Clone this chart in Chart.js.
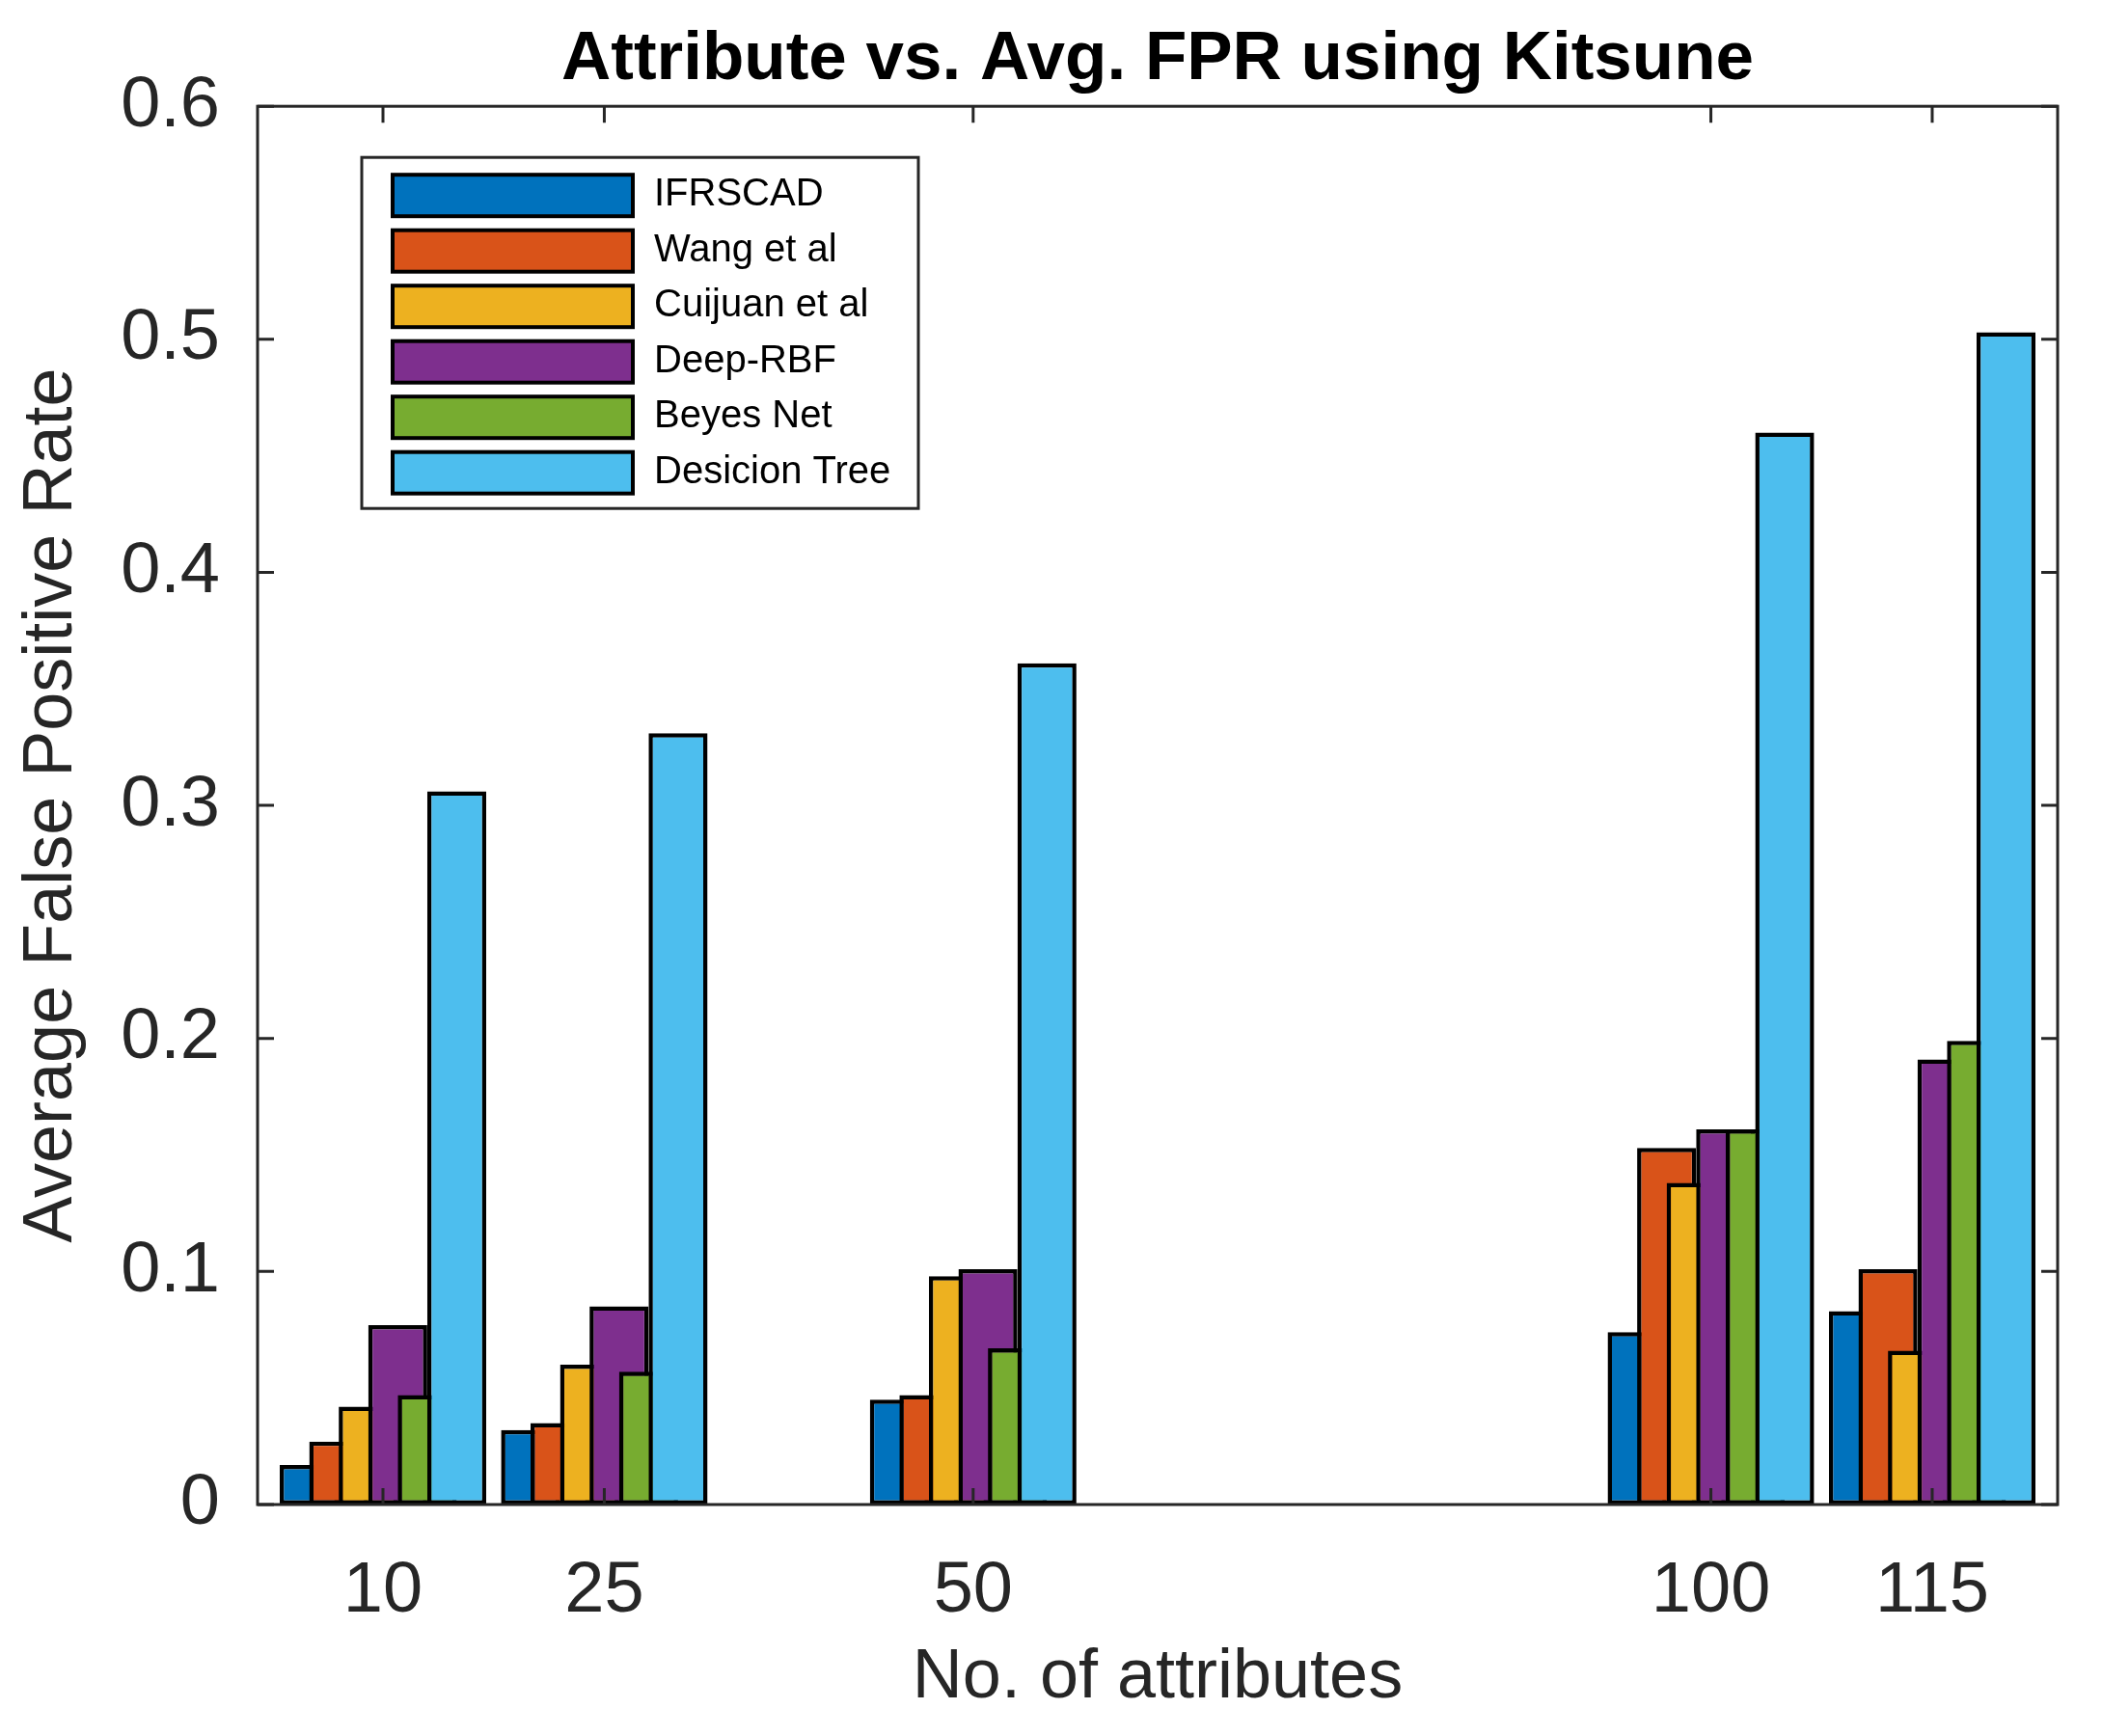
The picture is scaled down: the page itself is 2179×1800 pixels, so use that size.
<!DOCTYPE html>
<html>
<head>
<meta charset="utf-8">
<script src="https://cdn.jsdelivr.net/npm/chart.js@4.4.1/dist/chart.umd.min.js"></script>
<style>
  html, body { margin: 0; padding: 0; background: #fff; }
  #wrap { width: 2179px; height: 1800px; }
</style>
</head>
<body>
<div id="wrap"><canvas id="grafico" width="2179" height="1800"></canvas></div>
<script>
// datos
const atributos = [10, 25, 50, 100, 115];
const ifrscad  = [0.017, 0.032, 0.045, 0.074, 0.083];
const wang     = [0.027, 0.035, 0.047, 0.153, 0.101];
const cuijuan  = [0.042, 0.060, 0.098, 0.138, 0.066];
const deepRbf  = [0.077, 0.085, 0.101, 0.161, 0.191];
const beyesNet = [0.047, 0.057, 0.067, 0.161, 0.199];
const arbol    = [0.306, 0.331, 0.361, 0.460, 0.503];
const ticksY   = [0, 0.1, 0.2, 0.3, 0.4, 0.5, 0.6];

const nombres = ["IFRSCAD", "Wang et al", "Cuijuan et al", "Deep-RBF", "Beyes Net", "Desicion Tree"];
const series  = [ifrscad, wang, cuijuan, deepRbf, beyesNet, arbol];
const colores = ["#0072BD", "#D95319", "#EDB120", "#7E2F8E", "#77AC30", "#4DBEEE"];

const FUENTE = '"Liberation Sans", Arial, Helvetica, sans-serif';
const EJE = "#262626";

// dibuja las series en orden (la ultima encima), la caja, las marcas y la leyenda
const cajaEjes = {
  id: "cajaEjes",
  beforeDatasetsDraw(chart) {
    const ctx = chart.ctx, a = chart.chartArea;
    chart.getSortedVisibleDatasetMetas().forEach(meta => {
      ctx.save();
      ctx.beginPath();
      ctx.rect(a.left, a.top, a.right - a.left, a.bottom - a.top);
      ctx.clip();
      meta.controller.draw();
      ctx.restore();
    });
    return false;
  },
  afterDraw(chart) {
    const ctx = chart.ctx, a = chart.chartArea;
    const x = chart.scales.x, y = chart.scales.y;
    const largo = 17;
    ctx.save();
    ctx.strokeStyle = EJE;
    ctx.lineWidth = 3;
    ctx.beginPath();
    x.ticks.forEach(t => {
      const px = x.getPixelForValue(t.value);
      ctx.moveTo(px, a.bottom); ctx.lineTo(px, a.bottom - largo);
      ctx.moveTo(px, a.top);    ctx.lineTo(px, a.top + largo);
    });
    y.ticks.forEach(t => {
      const py = y.getPixelForValue(t.value);
      ctx.moveTo(a.left, py);  ctx.lineTo(a.left + largo, py);
      ctx.moveTo(a.right, py); ctx.lineTo(a.right - largo, py);
    });
    ctx.stroke();
    ctx.strokeRect(a.left, a.top, a.right - a.left, a.bottom - a.top);

    // leyenda
    const L = a.left + 108, T = a.top + 53, W = 577, H = 364;
    ctx.fillStyle = "#fff";
    ctx.fillRect(L, T, W, H);
    ctx.strokeStyle = EJE;
    ctx.strokeRect(L, T, W, H);
    ctx.font = "40px " + FUENTE;
    ctx.textBaseline = "middle";
    ctx.textAlign = "left";
    chart.data.datasets.forEach((ds, i) => {
      const cy = T + 39 + i * 57.5;
      ctx.fillStyle = ds.backgroundColor;
      ctx.fillRect(L + 32, cy - 21, 249, 43);
      ctx.strokeStyle = "#000";
      ctx.lineWidth = 4;
      ctx.strokeRect(L + 32, cy - 21, 249, 43);
      ctx.fillStyle = "#000";
      ctx.fillText(ds.label, L + 303, cy);
    });
    ctx.restore();
  }
};

const ctx = document.getElementById("grafico").getContext("2d");
new Chart(ctx, {
  type: "bar",
  data: {
    datasets: series.map((vals, i) => ({
      label: nombres[i],
      data: vals.map((v, j) => ({ x: atributos[j], y: v })),
      backgroundColor: colores[i],
      borderColor: "#000",
      borderWidth: 4.5,
      borderSkipped: false,
      categoryPercentage: 0.8,
      barPercentage: 2
    }))
  },
  options: {
    responsive: false,
    devicePixelRatio: 1,
    animation: false,
    layout: { padding: { left: 0, right: 46, top: 0, bottom: 0 } },
    plugins: {
      legend: { display: false },
      tooltip: { enabled: false },
      title: {
        display: true,
        fullSize: false,
        text: "Attribute vs. Avg. FPR using Kitsune",
        color: "#000",
        font: { family: FUENTE, size: 71, weight: "bold", lineHeight: 1.2 },
        padding: { top: 20, bottom: 5 }
      }
    },
    scales: {
      x: {
        type: "linear",
        offset: false,
        min: 1.5,
        max: 123.5,
        afterBuildTicks: s => { s.ticks = atributos.map(v => ({ value: v })); },
        afterFit: s => { s.height = 240; },
        grid: { display: false, drawTicks: false, offset: false },
        border: { display: false },
        ticks: {
          color: EJE,
          padding: 46,
          maxRotation: 0,
          font: { family: FUENTE, size: 74 },
          callback: v => String(v)
        },
        title: {
          display: true,
          text: "No. of attributes",
          color: EJE,
          font: { family: FUENTE, size: 72, lineHeight: 1.2 },
          padding: { top: 0, bottom: 17 }
        }
      },
      y: {
        min: 0,
        max: 0.6,
        afterBuildTicks: s => { s.ticks = ticksY.map(v => ({ value: v })); },
        afterFit: s => { s.width = 267; },
        grid: { display: false, drawTicks: false },
        border: { display: false },
        ticks: {
          color: EJE,
          padding: 39,
          font: { family: FUENTE, size: 74 },
          callback: v => String(Math.round(v * 10) / 10)
        },
        title: {
          display: true,
          text: "Average False Positive Rate",
          color: EJE,
          font: { family: FUENTE, size: 72, lineHeight: 1.2 },
          padding: { top: 11, bottom: 0 }
        }
      }
    }
  },
  plugins: [cajaEjes]
});
</script>
</body>
</html>
